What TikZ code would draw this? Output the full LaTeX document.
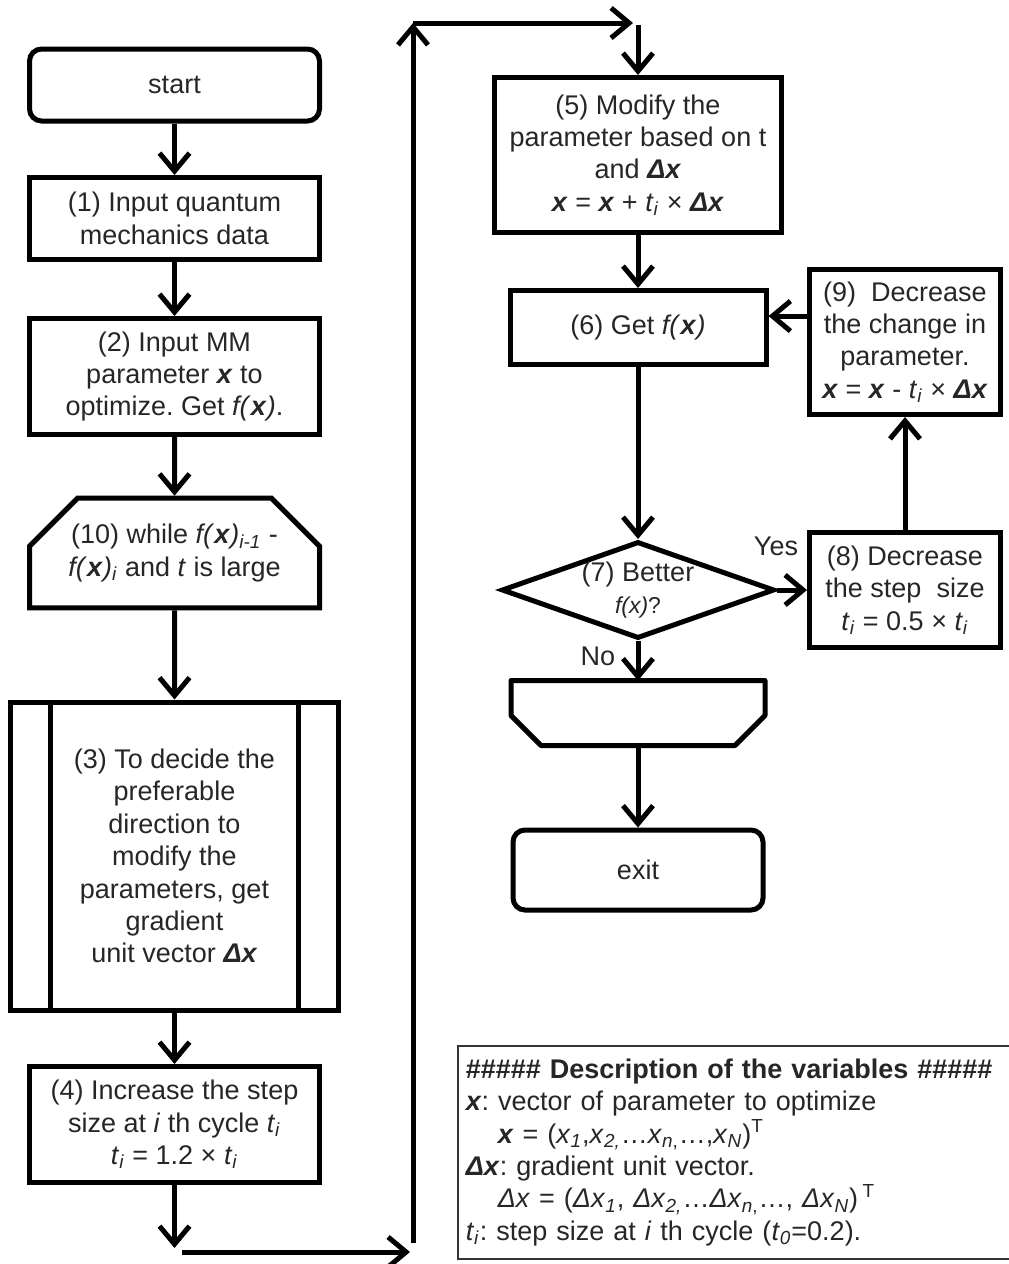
\documentclass[tikz,border=0pt]{standalone}
\usepackage{fontspec}
\setmainfont{Liberation Sans}
\usetikzlibrary{arrows.meta,shapes.geometric,shapes.misc}
\newcommand{\vecx}{\textbf{\textit{x}}}
\newcommand{\dvx}{\textbf{\textit{Δx}}}
\newcommand{\fx}{\textit{f(}\vecx\textit{)}}
\newcommand{\tsub}[1]{\textit{t}\textsubscript{\textit{#1}}}
\newcommand{\hashes}{\symbol{35}\symbol{35}\symbol{35}\symbol{35}\symbol{35}}
\frenchspacing

\begin{document}
\begin{tikzpicture}[x=0.5pt,y=-0.5pt, font=\fontsize{13.5}{16.2}\selectfont, text=black!85,
  box/.style={draw, line width=2.5pt, align=center, inner sep=1pt},
  term/.style={box, rounded corners=6pt},
  arr/.style={line width=2.5pt, -{Straight Barb[length=9pt,width=15pt]}}]
\useasboundingbox (0,0) rectangle (1008,1264);

\node[term, minimum width=145pt, minimum height=36pt] (start) at (174.5,85) {start};
\node[box, minimum width=145pt, minimum height=41pt] (in1) at (174.5,218.5) {(1) Input quantum\\mechanics data};
\node[box, minimum width=145pt, minimum height=58pt] (in2) at (174.5,376.5) {(2) Input MM\\parameter \vecx{} to\\optimize. Get \fx.};
\node[box, chamfered rectangle, chamfered rectangle corners={north west,north east},
  chamfered rectangle xsep=12pt, chamfered rectangle ysep=12pt,
  minimum width=145pt, minimum height=53pt] (wh10) at (174.5,553)
  {(10) while \fx\textsubscript{\textit{i-1}} -\\\fx\textsubscript{\textit{i}} and \textit{t} is large};
\node[box, minimum width=164pt, minimum height=154pt] (p3) at (174.5,856)
  {(3) To decide the\\preferable\\direction to\\modify the\\parameters, get\\gradient\\unit vector \dvx};
\foreach \s in {-62,62}
\draw[line width=2.5pt] ([xshift=\s pt]p3.north) -- ([xshift=\s pt]p3.south);
\node[box, minimum width=145pt, minimum height=58pt] (p4) at (174.5,1124.5)
  {(4) Increase the step\\size at \textit{i} th cycle \tsub{i}\\\tsub{i} = 1.2 × \tsub{i}};

\node[box, minimum width=143.5pt, minimum height=77.5pt] (p5) at (638,155)
  {(5) Modify the\\parameter based on t\\and \dvx\\\vecx{} = \vecx{} + \tsub{i} × \dvx};
\node[box, minimum width=128pt, minimum height=37pt] (p6) at (638,327.5) {(6) Get \fx};
\node[box, minimum width=95.5pt, minimum height=72.5pt] (p9) at (905,342)
  {(9)~~Decrease\\the change in\\parameter.\\\vecx{} = \vecx{} - \tsub{i} × \dvx};
\node[box, minimum width=95.5pt, minimum height=57.5pt] (p8) at (905,590)
  {(8) Decrease\\the step~~size\\\tsub{i} = 0.5 × \tsub{i}};
\node[draw, diamond, line width=2.5pt, aspect=2.8, inner sep=0pt, align=center,
  minimum width=136.5pt, minimum height=48.5pt] (dec7) at (638,590)
  {(7) Better\\{\fontsize{11.5}{13}\selectfont\textit{f(x)}?}};
\node[minimum width=127pt, minimum height=32.5pt, outer sep=0pt] (lend) at (638,713) {};
\draw[line width=2.5pt, line join=round] (lend.north west) -- (lend.north east) -- ([yshift=15pt]lend.south east)
  -- ([xshift=-15pt]lend.south east) -- ([xshift=15pt]lend.south west) -- ([yshift=15pt]lend.south west) -- cycle;
\node[term, minimum width=125pt, minimum height=40pt] (exit) at (638,870) {exit};

\node (yes) at (776,546) {Yes};
\node (no) at (598,656) {No};

\node[draw=black!80, line width=0.75pt, anchor=north west, text width=272pt, inner xsep=4pt,
  inner ysep=0pt, minimum height=106.5pt, align=left] (desc) at (457,1045)
  {\textbf{\hashes{} Description of the variables \hashes}\\
   \vecx: vector of parameter to optimize\\
   \hspace*{16pt}\vecx{} = (\textit{x}\textsubscript{\textit{1}},\textit{x}\textsubscript{\textit{2,}}…\textit{x}\textsubscript{\textit{n},}…,\textit{x}\textsubscript{\textit{N}})\textsuperscript{T}\\
   \dvx: gradient unit vector.\\
   \hspace*{16pt}\textit{Δx} = (\textit{Δx}\textsubscript{\textit{1}}, \textit{Δx}\textsubscript{\textit{2,}}…\textit{Δx}\textsubscript{\textit{n},}…, \textit{Δx}\textsubscript{\textit{N}})\,\textsuperscript{T}\\
   \tsub{i}: step size at \textit{i} th cycle (\tsub{0}=0.2).};

\foreach \a/\b in {start/in1,in1/in2,in2/wh10,wh10/p3,p3/p4,p5/p6,p6/dec7,dec7/lend,lend/exit,p8/p9,dec7/p8}
\draw[arr] (\a) -- (\b);
\draw[arr] (p9.west |- p6.5) -- (p6.5);

\coordinate (d4) at (174.5,1248);
\coordinate (h1) at (182,1252);
\coordinate (h2) at (410,1252);
\coordinate (v1) at (413,1243);
\coordinate (v2) at (413,23);
\coordinate (t1) at (633,23);
\coordinate (t2) at (638,25);
\draw[arr] (p4) -- (d4);
\draw[arr] (h1) -- (h2);
\draw[arr] (v1) -- (v2);
\draw[arr] (v2) -- (t1);
\draw[arr] (t2) -- (p5);

\end{tikzpicture}
\end{document}
